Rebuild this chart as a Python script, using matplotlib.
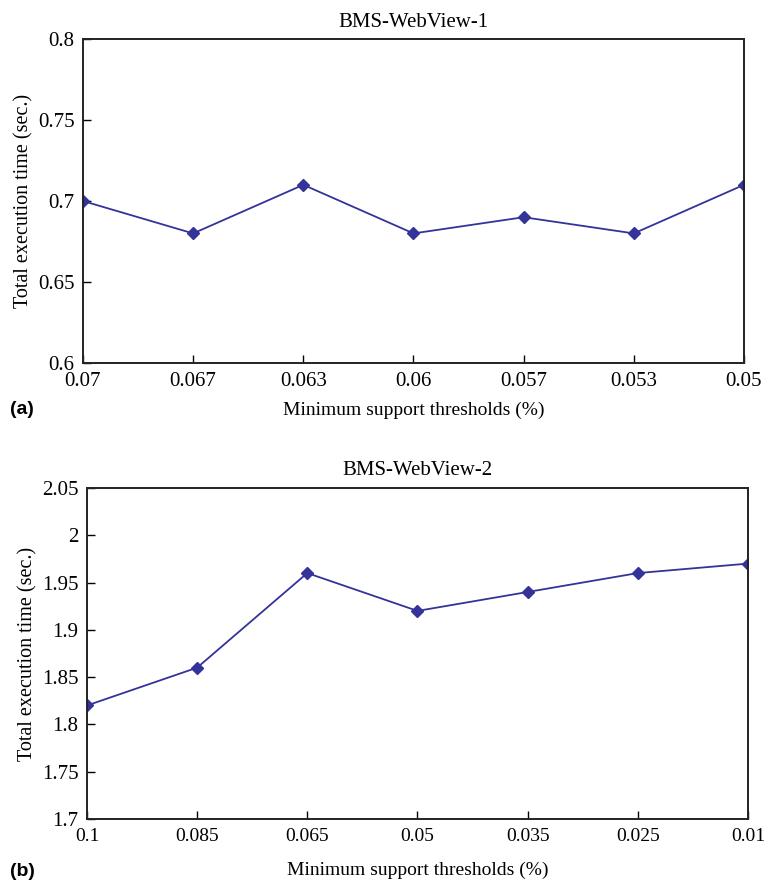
import matplotlib
matplotlib.use("Agg")
import matplotlib.pyplot as plt

plt.rcParams['font.family'] = ['Liberation Serif', 'DejaVu Serif']

# Data
cats_a = ["0.07", "0.067", "0.063", "0.06", "0.057", "0.053", "0.05"]
vals_a = [0.70, 0.68, 0.71, 0.68, 0.69, 0.68, 0.71]
yticks_a = [0.6, 0.65, 0.7, 0.75, 0.8]
yticklabels_a = ["0.6", "0.65", "0.7", "0.75", "0.8"]

cats_b = ["0.1", "0.085", "0.065", "0.05", "0.035", "0.025", "0.01"]
vals_b = [1.82, 1.86, 1.96, 1.92, 1.94, 1.96, 1.97]
yticks_b = [1.7, 1.75, 1.8, 1.85, 1.9, 1.95, 2.0, 2.05]
yticklabels_b = ["1.7", "1.75", "1.8", "1.85", "1.9", "1.95", "2", "2.05"]

color = "#333399"

fig = plt.figure(figsize=(7.67, 8.83), dpi=100)
ax1 = fig.add_axes([0.1082, 0.5889, 0.8618, 0.3669])
ax2 = fig.add_axes([0.1134, 0.0725, 0.8618, 0.3749])

def style(ax, cats, vals, yt, ytl, title, xfs, label_y):
    x = list(range(len(cats)))
    ax.plot(x, vals, color=color, marker="D", markersize=6.5, linewidth=1.3)
    ax.set_xlim(0, len(cats) - 1)
    ax.set_ylim(yt[0], yt[-1])
    ax.set_xticks(x)
    ax.set_xticklabels(cats, fontsize=xfs)
    ax.set_yticks(yt)
    ax.set_yticklabels(ytl, fontsize=15)
    ax.tick_params(axis="x", direction="in", length=6, width=1, top=False, pad=6.5)
    ax.tick_params(axis="y", direction="in", length=6, width=1, right=False, pad=6)
    for s in ax.spines.values():
        s.set_linewidth(1.4)
        s.set_color("#222222")
    ax.set_title(title, fontsize=15, pad=9)
    ax.set_xlabel("Minimum support thresholds (%)", fontsize=14)
    ax.xaxis.set_label_coords(0.5, label_y)
    ax.set_ylabel("Total execution time (sec.)", fontsize=14.5, labelpad=3)

style(ax1, cats_a, vals_a, yticks_a, yticklabels_a, "BMS-WebView-1", 15, -0.118)
style(ax2, cats_b, vals_b, yticks_b, yticklabels_b, "BMS-WebView-2", 14, -0.128)

fig.text(10 / 767, 1 - 410 / 883, "(a)", fontsize=14, fontweight="bold",
         family=["Liberation Sans", "DejaVu Sans"], va="center", ha="left")
fig.text(10 / 767, 1 - 871 / 883, "(b)", fontsize=14, fontweight="bold",
         family=["Liberation Sans", "DejaVu Sans"], va="center", ha="left")

fig.savefig("out.png", dpi=100)
